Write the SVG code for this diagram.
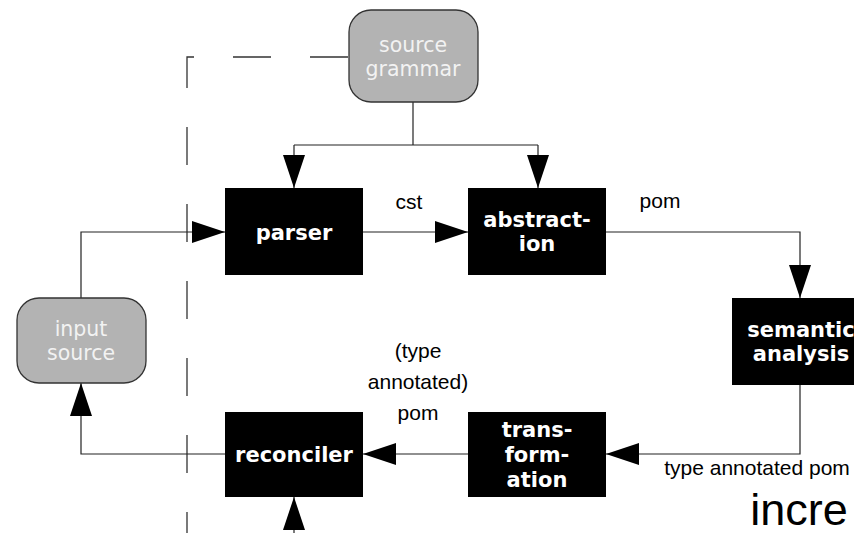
<svg xmlns="http://www.w3.org/2000/svg" width="854" height="533" viewBox="0 0 854 533">
  <style>
    .stage rect { fill: #000; }
    .stage text { font-family: "DejaVu Sans", sans-serif; font-weight: bold; font-size: 21px; fill: #fff; text-anchor: middle; }
    .store rect { fill: #b3b3b3; stroke: #333; stroke-width: 1.3; }
    .store text { font-family: "DejaVu Sans", sans-serif; font-size: 20.5px; fill: #f2f2f2; text-anchor: middle; }
    .wire { fill: none; stroke: #222; stroke-width: 1.2; }
    .label { font-family: "Liberation Sans", Arial, sans-serif; font-size: 21px; fill: #000; text-anchor: middle; }
  </style>
  <defs>
    <marker id="head" markerUnits="userSpaceOnUse" markerWidth="34" markerHeight="24" refX="33" refY="11" orient="auto">
      <path d="M0,0 L33,11 L0,22 Z" fill="#000"/>
    </marker>
  </defs>

  <!-- boundary of the incremental loop -->
  <path d="M348,57 H187 V533" fill="none" stroke="#333" stroke-width="1.3" stroke-dasharray="38 39"/>

  <g id="connectors">
    <path class="wire" d="M413,102 V145"/>
    <path class="wire" d="M294,145 H538"/>
    <path class="wire" d="M294,145 V188" marker-end="url(#head)"/>
    <path class="wire" d="M538,145 V188" marker-end="url(#head)"/>
    <path class="wire" d="M81,298 V232 H225" marker-end="url(#head)"/>
    <path class="wire" d="M363,232 H468" marker-end="url(#head)"/>
    <path class="wire" d="M606,232 H800 V298" marker-end="url(#head)"/>
    <path class="wire" d="M800,385 V454 H606" marker-end="url(#head)"/>
    <path class="wire" d="M468,454 H363" marker-end="url(#head)"/>
    <path class="wire" d="M225,454 H81 V383" marker-end="url(#head)"/>
    <path class="wire" d="M294,570 V497" marker-end="url(#head)"/>
  </g>

  <g id="source-grammar" class="store">
    <rect x="349" y="10" width="129" height="92" rx="22"/>
    <text x="413" y="52">source</text>
    <text x="413" y="76">grammar</text>
  </g>

  <g id="input-source" class="store">
    <rect x="17" y="298" width="129" height="85" rx="22"/>
    <text x="81" y="336">input</text>
    <text x="81" y="360">source</text>
  </g>

  <g id="parser" class="stage">
    <rect x="225" y="188" width="138" height="87"/>
    <text x="294" y="240">parser</text>
  </g>

  <g id="abstraction" class="stage">
    <rect x="468" y="188" width="138" height="87"/>
    <text x="537" y="227">abstract-</text>
    <text x="537" y="251">ion</text>
  </g>

  <g id="semantic-analysis" class="stage">
    <rect x="732" y="298" width="138" height="87"/>
    <text x="801" y="337">semantic</text>
    <text x="801" y="361">analysis</text>
  </g>

  <g id="transformation" class="stage">
    <rect x="468" y="412" width="138" height="85"/>
    <text x="537" y="437">trans-</text>
    <text x="537" y="462">form-</text>
    <text x="537" y="487">ation</text>
  </g>

  <g id="reconciler" class="stage">
    <rect x="225" y="412" width="138" height="85"/>
    <text x="294" y="462">reconciler</text>
  </g>

  <g id="labels">
    <text class="label" x="409" y="209">cst</text>
    <text class="label" x="660" y="208">pom</text>
    <text class="label" x="418" y="358">(type</text>
    <text class="label" x="418" y="389">annotated)</text>
    <text class="label" x="418" y="420">pom</text>
    <text class="label" x="757" y="475">type annotated pom</text>
    <text x="799" y="525" font-family="Liberation Sans, Arial, sans-serif" font-size="45" text-anchor="middle" fill="#000">incre</text>
  </g>
</svg>
